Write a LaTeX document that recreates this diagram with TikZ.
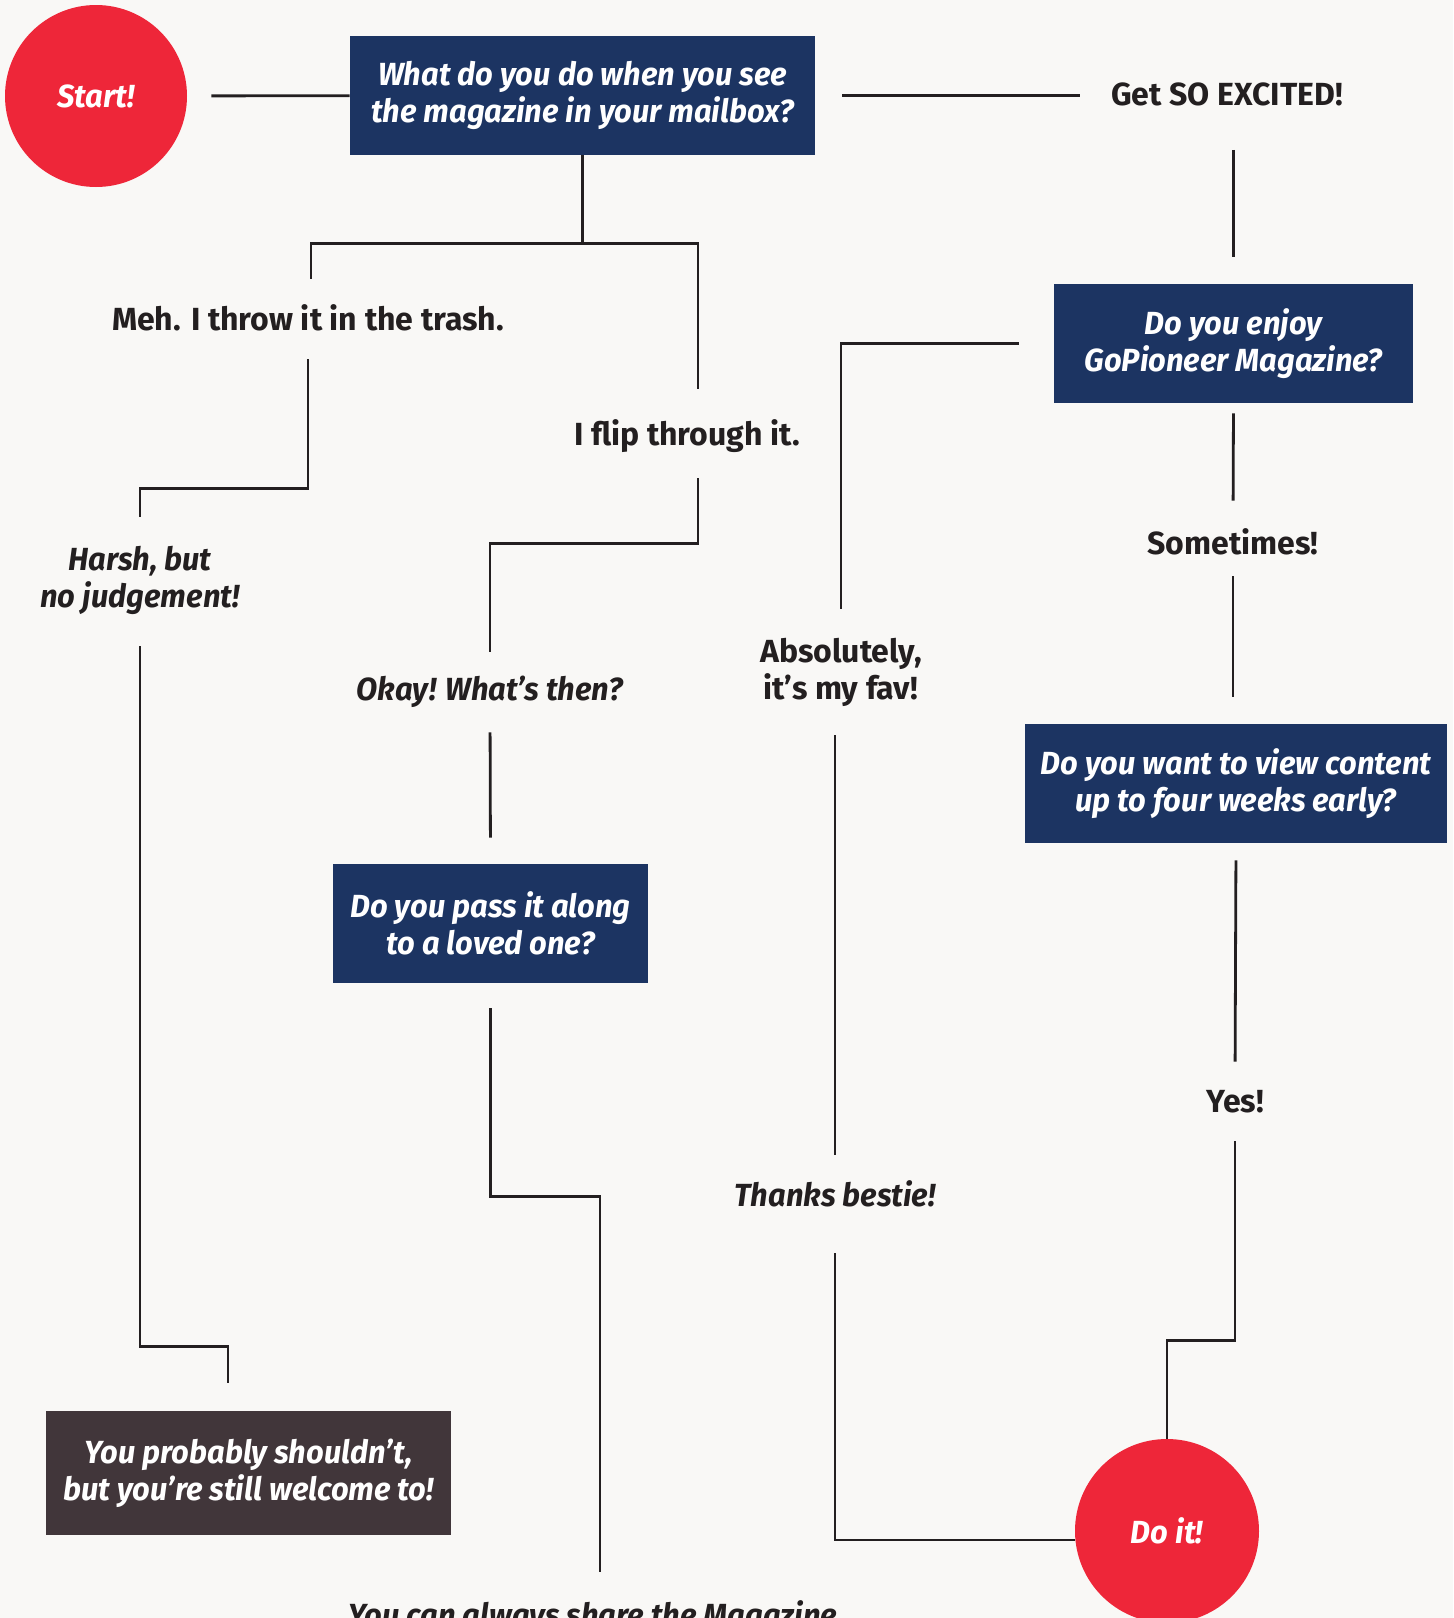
\documentclass[tikz,border=0pt]{standalone}
\usepackage{fontspec}
\setmainfont{Fira Sans}[BoldItalicFeatures={FakeStretch=0.965}]
\usepackage{tikz}
\usetikzlibrary{positioning}

\definecolor{paper}{HTML}{F9F8F6}
\definecolor{navy}{HTML}{1C3462}
\definecolor{gored}{HTML}{EE2639}
\definecolor{dusk}{HTML}{41363A}
\definecolor{ink}{HTML}{231F20}
\newcommand\flowfont{\fontsize{16}{18.5}\selectfont}

\begin{document}
\begin{tikzpicture}[x=0.5pt, y=-0.5pt,
    question/.style={fill=navy, text=white, align=center, inner sep=0pt,
        minimum height=59.5pt, font=\flowfont\bfseries\itshape},
    closing/.style={question, fill=dusk, minimum height=62pt},
    bubble/.style={circle, fill=gored, text=white, inner sep=0pt,
        font=\flowfont\bfseries\itshape},
    answer/.style={text=ink, align=center, inner sep=0pt, font=\flowfont\bfseries},
    reply/.style={answer, font=\flowfont\bfseries\itshape},
    oneline/.style={text height=12pt, text depth=3pt},
    link/.style={draw=ink, line width=1.4pt}]
    % Paper
    \fill[paper] (0,0) rectangle (1453,1618);
    \clip (0,0) rectangle (1453,1618);

    % Start and first question
    \node[bubble, minimum size=91pt] (start) at (96,96) {Start!};
    \node[question, minimum width=232.5pt] (mailbox) at (582.5,95.5) {What do you do when you see\\the magazine in your mailbox?};
    \draw[link, shorten <=12pt] (start) -- (mailbox);

    % Excited branch
    \node[answer, oneline] (excited) at (1227,96.5) {Get SO EXCITED!};
    \draw[link, shorten <=13.5pt, shorten >=15.5pt] (mailbox.east) -- (excited.west |- mailbox.east);
    \node[question, minimum width=179.5pt] (enjoy) at (1233.5,343.5) {Do you enjoy\\GoPioneer Magazine?};
    \draw[link, shorten <=19pt, shorten >=13.5pt] (enjoy.north |- excited.south) -- (enjoy.north);
    \node[answer, oneline] (sometimes) at (1233,545) {Sometimes!};
    \draw[link, shorten <=5pt, shorten >=14.5pt] (enjoy.south) -- (sometimes.north);
    \node[question, minimum width=211pt] (early) at (1236,783.5) {Do you want to view content\\up to four weeks early?};
    \draw[link, shorten <=8pt, shorten >=13.5pt] (sometimes.south) -- (sometimes.south |- early.north);
    \node[answer, oneline] (yes) at (1235,1103) {Yes!};
    \draw[link, shorten <=8.5pt, shorten >=13pt] (early.south) -- (yes.north);
    \node[bubble, minimum size=92pt] (doit) at (1167,1531) {Do it!};
    \draw[link, shorten <=11.5pt] (yes.south) -- ++(0,222) -| (doit.north);

    % Favourite branch
    \node[answer] (fav) at (841,672) {Absolutely,\\it’s my fav!};
    \draw[link, shorten <=17.5pt, shorten >=14.25pt] (enjoy.west) -| (fav.north);
    \node[reply, oneline] (bestie) at (835,1197) {Thanks bestie!};
    \draw[link, shorten <=14.25pt, shorten >=13.5pt] (bestie.north |- fav.south) -- (bestie.north);
    \draw[link, shorten <=20.5pt] (bestie.south) |- ([yshift=-4.5pt]doit.west);

    % Trash branch
    \draw[link] (mailbox.south) -- ++(0,88) coordinate (fork);
    \node[answer, oneline] (trash) at (308,321) {Meh. I throw it in the trash.};
    \draw[link, shorten >=13.5pt] (fork) -| ([xshift=1.5pt]trash.north);
    \node[reply] (harsh) at (140,580) {Harsh, but\\no judgement!};
    \draw[link, shorten <=11.5pt, shorten >=14.25pt] (trash.south) -- ++(0,152) -| (harsh.north);
    \node[closing, minimum width=202.5pt] (welcome) at (248.5,1473) {You probably shouldn’t,\\but you’re still welcome to!};
    \draw[link, shorten <=15.75pt, shorten >=14pt] (harsh.south) -- ++(0,731.5) -| ([xshift=-10.25pt]welcome.north);

    % Flip branch
    \node[answer, oneline] (flip) at (687,436) {I flip through it.};
    \draw[link, shorten >=16pt] (fork) -| ([xshift=5.5pt]flip.north);
    \node[reply, oneline] (okay) at (490,691) {Okay! What’s then?};
    \draw[link, shorten <=13.5pt, shorten >=12pt] ([xshift=5.5pt]flip.south) -- ++(0,92) -| (okay.north);
    \node[question, minimum width=157.5pt] (pass) at (490.5,923.5) {Do you pass it along\\to a loved one?};
    \draw[link, shorten <=13pt, shorten >=13pt] (okay.south) -- (pass.north);
    \node[reply, oneline] (share) at (593,1617) {You can always share the Magazine};
    \draw[link, shorten <=12.5pt, shorten >=15pt] (pass.south) -- ++(0,213) -| ([xshift=3.5pt]share.north);
\end{tikzpicture}
\end{document}
